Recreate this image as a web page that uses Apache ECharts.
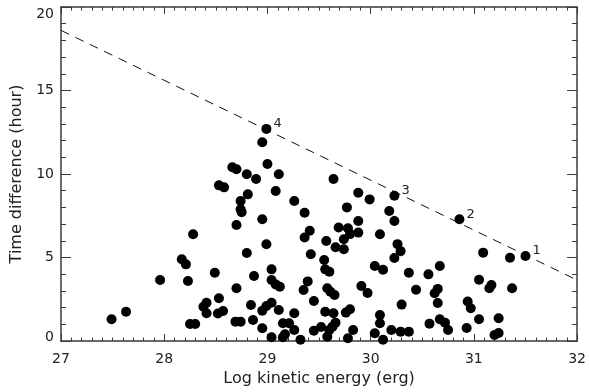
<!DOCTYPE html>
<html>
<head>
<meta charset="utf-8">
<script src="https://cdn.jsdelivr.net/npm/echarts@6/dist/echarts.min.js"></script>
<style>html,body{margin:0;padding:0;background:#fff}#c{width:589px;height:392px}</style>
</head>
<body>
<div id="c"></div>
<script>
// Log kinetic energy (erg)
var energy = [
27.49,27.63,27.96,28.17,28.21,28.23,28.28,28.25,28.30,28.38,28.41,28.41,28.49,28.53,28.52,28.57,28.53,28.58,
28.66,28.70,28.80,28.89,29.11,28.81,29.08,28.74,28.74,28.75,29.26,29.36,28.95,28.70,29.41,
29.69,29.78,29.80,29.88,29.77,29.64,28.95,29.00,28.99,28.80,29.36,29.57,29.66,29.74,29.74,29.42,
29.55,29.56,29.60,29.04,28.87,29.04,29.08,29.12,29.39,29.35,28.70,29.58,29.61,29.65,29.45,28.84,
29.04,28.99,28.95,29.11,29.26,29.56,29.64,29.76,29.80,28.69,28.74,28.86,29.15,29.21,28.95,29.26,
29.45,29.52,29.60,29.58,29.63,29.66,29.04,29.15,29.17,29.32,29.78,29.83,
29.88,29.99,30.18,30.23,29.88,30.09,30.26,30.29,30.23,30.04,30.12,30.37,30.56,30.67,29.91,29.97,
30.44,30.65,30.62,30.65,30.30,30.94,30.97,30.09,30.09,30.04,30.12,30.20,30.29,30.37,30.57,30.67,
30.72,30.75,30.93,31.09,31.35,31.05,31.17,31.15,31.37,31.05,31.24,31.20,31.24
];
// Time difference (hour)
var timeDiff = [
1.30,1.75,3.65,4.89,4.59,3.59,6.39,1.02,1.02,2.05,2.29,1.66,4.09,2.56,1.65,1.80,9.32,9.20,
10.40,10.28,9.98,9.70,9.98,8.78,8.98,8.38,7.89,7.71,8.38,7.68,7.29,6.95,6.60,
6.80,6.75,6.40,6.49,8.00,9.70,11.90,10.60,5.79,5.27,6.20,5.99,5.61,5.49,6.09,5.19,
4.85,4.29,4.15,4.29,3.89,3.65,3.39,3.25,3.57,3.05,3.16,3.16,2.95,2.75,2.40,2.16,
2.29,2.10,1.81,1.86,1.66,1.75,1.66,1.70,1.90,1.16,1.16,1.26,1.06,1.06,0.76,0.66,
0.62,0.84,0.66,0.26,0.86,1.10,0.22,0.22,0.40,0.08,0.16,0.66,
8.88,8.48,7.78,7.19,7.19,6.39,5.80,5.38,4.97,4.49,4.27,4.09,3.99,4.49,3.29,2.87,
3.07,3.12,2.86,2.28,2.18,2.37,1.96,1.56,1.06,0.46,0.08,0.66,0.56,0.56,1.04,1.30,
1.10,0.66,0.78,5.29,4.99,3.67,3.35,3.16,3.16,1.30,1.36,0.36,0.48
];
// Numbered events
var numEnergy = [31.50, 30.86, 30.23, 28.99];
var numTime = [5.09, 7.29, 8.70, 12.70];
var numText = ['1', '2', '3', '4'];
// Dashed upper-limit line
var limitX = [27, 32];
var limitY = [18.6, 3.65];
var xTicks = [27, 28, 29, 30, 31, 32];
var yTicks = [0, 5, 10, 15, 20];

var pts = energy.map(function (e, i) { return [e, timeDiff[i]]; });
var numPts = numEnergy.map(function (e, i) { return [e, numTime[i]]; });
var linePts = limitX.map(function (x, i) { return [x, limitY[i]]; });

var axisCol = '#3a3a3a';
var txtCol = '#222';
var font = 'DejaVu Sans';

function xAx(pos, showLabel) {
  return {
    type: 'value', position: pos, min: xTicks[0], max: xTicks[xTicks.length - 1], interval: 1,
    name: showLabel ? 'Log kinetic energy (erg)' : '', nameLocation: 'middle', nameGap: 30,
    nameTextStyle: { fontFamily: font, fontSize: 16, color: txtCol },
    axisLine: { show: true, onZero: false, lineStyle: { color: axisCol, width: 1.5 } },
    axisTick: { show: true, inside: true, length: 7, lineStyle: { color: axisCol, width: 1 } },
    minorTick: { show: true, splitNumber: 10, length: 3.5, lineStyle: { color: axisCol, width: 1 } },
    axisLabel: { show: showLabel, margin: 11, fontFamily: font, fontSize: 14, color: txtCol },
    splitLine: { show: false }
  };
}
function yAx(pos, showLabel) {
  return {
    type: 'value', position: pos, min: yTicks[0], max: yTicks[yTicks.length - 1], interval: 5,
    name: showLabel ? 'Time difference (hour)' : '', nameLocation: 'middle', nameGap: 35,
    nameTextStyle: { fontFamily: font, fontSize: 16, color: txtCol },
    axisLine: { show: true, onZero: false, lineStyle: { color: axisCol, width: 1.5 } },
    axisTick: { show: true, inside: true, length: 10, lineStyle: { color: axisCol, width: 1 } },
    minorTick: { show: true, splitNumber: 5, length: 5, lineStyle: { color: axisCol, width: 1 } },
    axisLabel: {
      show: showLabel, margin: 7, fontFamily: font, fontSize: 14, color: txtCol,
      formatter: function (v) {
        if (v === 0) return '{lo|0}';
        if (v === 20) return '{hi|20}';
        return String(v);
      },
      rich: {
        lo: { fontFamily: font, fontSize: 14, color: txtCol, padding: [0, 0, 8, 0] },
        hi: { fontFamily: font, fontSize: 14, color: txtCol, padding: [14, 0, 0, 0] }
      }
    },
    splitLine: { show: false }
  };
}

var chart = echarts.init(document.getElementById('c'), null, { renderer: 'canvas' });
chart.setOption({
  animation: false,
  backgroundColor: '#fff',
  grid: { left: 61, right: 10, top: 7, bottom: 51, containLabel: false },
  xAxis: [xAx('bottom', true), xAx('top', false)],
  yAxis: [yAx('left', true), yAx('right', false)],
  series: [
    {
      type: 'line', data: linePts, showSymbol: false, symbol: 'none',
      lineStyle: { color: '#111', width: 1, type: [9, 7] }, silent: true, z: 1
    },
    {
      type: 'scatter', data: pts, symbol: 'circle', symbolSize: 10,
      itemStyle: { color: '#000', opacity: 1 }, z: 2
    },
    {
      type: 'scatter', data: numPts, symbol: 'circle', symbolSize: 10,
      itemStyle: { color: '#000', opacity: 1 }, z: 3,
      label: {
        show: true, position: 'right', distance: 2, offset: [0, -5],
        fontFamily: font, fontSize: 13, color: txtCol,
        formatter: function (p) { return numText[p.dataIndex]; }
      }
    }
  ]
});
</script>
</body>
</html>
